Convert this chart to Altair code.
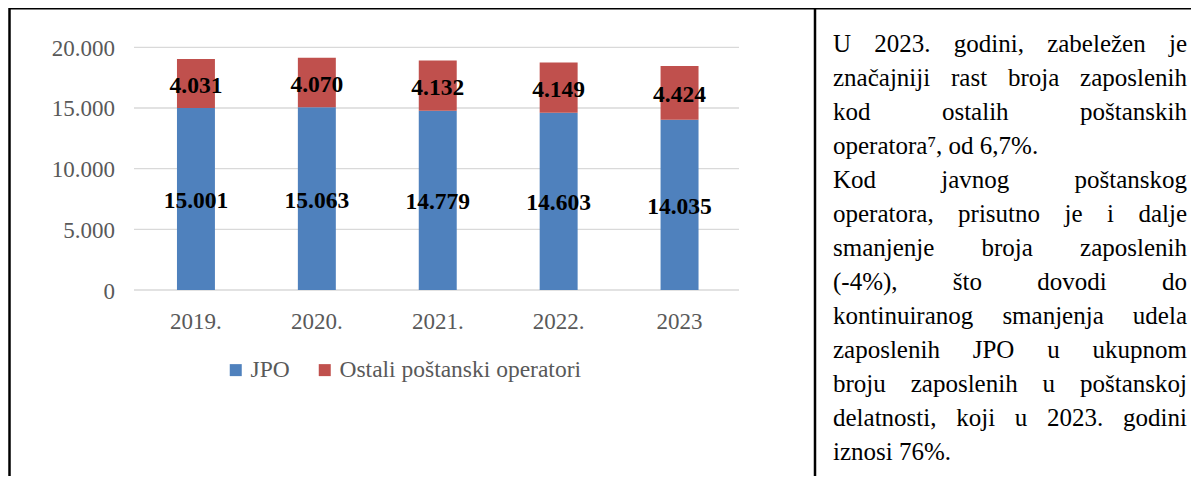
import altair as alt
import pandas as pd

# ---------------- data ----------------
years = ["2019.", "2020.", "2021.", "2022.", "2023"]
jpo = [15001, 15063, 14779, 14603, 14035]
ostali = [4031, 4070, 4132, 4149, 4424]
series_names = ["JPO", "Ostali poštanski operatori"]
series_colors = ["#4F81BD", "#C0504D"]
y_ticks = [0, 5000, 10000, 15000, 20000]

text_lines = [
    "U 2023. godini, zabeležen je",
    "značajniji rast broja zaposlenih",
    "kod ostalih poštanskih",
    "operatora⁷, od 6,7%.",
    "Kod javnog poštanskog",
    "operatora, prisutno je i dalje",
    "smanjenje broja zaposlenih",
    "(-4%), što dovodi do",
    "kontinuiranog smanjenja udela",
    "zaposlenih JPO u ukupnom",
    "broju zaposlenih u poštanskoj",
    "delatnosti, koji u 2023. godini",
    "iznosi 76%.",
]
line_justified = [True, True, True, False, True, True, True, True, True, True, True, True, False]

# ---------------- layout ----------------
W, H = 1183, 468
FONT = "Liberation Serif, Times New Roman, serif"
TEXT_LEFT, TEXT_RIGHT = 825, 1179
TEXT_BASE, LINE_H, TEXT_SIZE = 44, 34, 25
AXIS_SIZE = 23

# Times-Roman advance widths (per 1000 em) for justification
_w = {" ": 250, "%": 833, "(": 333, ")": 333, ",": 250, "-": 333, ".": 250, "⁷": 300,
      "J": 389, "K": 722, "O": 722, "P": 556, "U": 722}
for c in "0123456789":
    _w[c] = 500
_w.update({"a": 444, "b": 500, "c": 444, "č": 444, "d": 500, "e": 444, "f": 333, "g": 500,
           "h": 500, "i": 278, "j": 278, "k": 500, "l": 278, "m": 778, "n": 500, "o": 500,
           "p": 500, "r": 333, "s": 389, "š": 389, "t": 278, "u": 500, "v": 500, "z": 444, "ž": 444})


def text_width(s, size):
    return sum(_w.get(c, 500) for c in s) * size / 1000.0


def fmt(v):
    return f"{v:,}".replace(",", ".")


rows = []
for i, yr in enumerate(years):
    rows.append({"year": yr, "series": series_names[0], "value": jpo[i], "label": fmt(jpo[i]), "ord": 0})
    rows.append({"year": yr, "series": series_names[1], "value": ostali[i], "label": fmt(ostali[i]), "ord": 1})
df = pd.DataFrame(rows)

ticks_df = pd.DataFrame({"tick": y_ticks, "label": [fmt(t) for t in y_ticks]})
years_df = pd.DataFrame({"year": years})

# justified paragraph words
word_rows_left, word_rows_right, plain_rows = [], [], []
for i, (line, just) in enumerate(zip(text_lines, line_justified)):
    py = TEXT_BASE + i * LINE_H
    if not just:
        plain_rows.append({"t": line, "px": TEXT_LEFT, "py": py})
        continue
    words = line.split(" ")
    widths = [text_width(w_, TEXT_SIZE) for w_ in words]
    gap = (TEXT_RIGHT - TEXT_LEFT - sum(widths)) / (len(words) - 1)
    x = TEXT_LEFT
    for j, (w_, wd) in enumerate(zip(words, widths)):
        if j == len(words) - 1:
            word_rows_right.append({"t": w_, "px": TEXT_RIGHT, "py": py})
        else:
            word_rows_left.append({"t": w_, "px": x, "py": py})
        x += wd + gap

xscale = alt.Scale(domain=years, range=[127.5, 732], paddingInner=0.686, paddingOuter=0.343)
yscale = alt.Scale(domain=[0, 20000], range=[282, 39.3], nice=False, zero=False)

X = alt.X("year:N", scale=xscale, axis=None, sort=years)

grid = alt.Chart(ticks_df).mark_rule(color="#D9D9D9", strokeWidth=1.3).encode(
    y=alt.Y("tick:Q", scale=yscale, axis=None),
    x=alt.value(126), x2=alt.value(731),
)

bars = alt.Chart(df).mark_bar().encode(
    x=X,
    y=alt.Y("value:Q", scale=yscale, axis=None, stack="zero"),
    color=alt.Color(
        "series:N",
        scale=alt.Scale(domain=series_names, range=series_colors),
        legend=alt.Legend(
            orient="none", legendX=216, legendY=350, direction="horizontal", title=None,
            symbolType="square", symbolSize=144, symbolStrokeWidth=0, labelFont=FONT,
            labelFontSize=23.5, labelColor="#595959", labelOffset=3, columnPadding=23,
            labelLimit=500, padding=0,
        ),
    ),
    order=alt.Order("ord:Q"),
)

labels = alt.Chart(df).transform_stack(
    stack="value", groupby=["year"], as_=["v0", "v1"], sort=[alt.SortField("ord")]
).transform_calculate(mid="(datum.v0 + datum.v1) / 2").mark_text(
    font=FONT, fontSize=23.5, fontWeight="bold", color="black", baseline="middle", dy=2
).encode(
    x=X,
    y=alt.Y("mid:Q", scale=yscale, axis=None),
    text="label:N",
)

ylabels = alt.Chart(ticks_df).mark_text(
    align="right", baseline="middle", dy=1.5, font=FONT, fontSize=AXIS_SIZE, color="#595959"
).encode(
    y=alt.Y("tick:Q", scale=yscale, axis=None),
    x=alt.value(107),
    text="label:N",
)

xlabels = alt.Chart(years_df).mark_text(
    baseline="middle", font=FONT, fontSize=AXIS_SIZE, color="#595959"
).encode(x=X, y=alt.value(314), text="year:N")

one = pd.DataFrame({"k": [0]})
top_line = alt.Chart(one).mark_rule(color="black", strokeWidth=2).encode(
    x=alt.value(1), x2=alt.value(W), y=alt.value(0.5))
left_line = alt.Chart(one).mark_rule(color="black", strokeWidth=2.5).encode(
    x=alt.value(1.5), y=alt.value(0), y2=alt.value(H))
divider = alt.Chart(one).mark_rule(color="black", strokeWidth=2.5).encode(
    x=alt.value(807), y=alt.value(0), y2=alt.value(H))

PX = alt.X("px:Q", scale=None, axis=None)
PY = alt.Y("py:Q", scale=None, axis=None)
words_left = alt.Chart(pd.DataFrame(word_rows_left)).mark_text(
    align="left", baseline="alphabetic", font=FONT, fontSize=TEXT_SIZE, color="black"
).encode(x=PX, y=PY, text="t:N")
words_right = alt.Chart(pd.DataFrame(word_rows_right)).mark_text(
    align="right", baseline="alphabetic", font=FONT, fontSize=TEXT_SIZE, color="black"
).encode(x=PX, y=PY, text="t:N")
plain = alt.Chart(pd.DataFrame(plain_rows)).mark_text(
    align="left", baseline="alphabetic", font=FONT, fontSize=TEXT_SIZE, color="black"
).encode(x=PX, y=PY, text="t:N")

chart = alt.layer(
    grid, bars, labels, ylabels, xlabels, top_line, left_line, divider,
    words_left, words_right, plain,
).resolve_scale(x="independent", y="independent").properties(
    width=W, height=H, padding=0, autosize=alt.AutoSizeParams(type="none"),
    background="white",
).configure_view(stroke=None)

chart.save("out.html", embed_options={"renderer": "svg", "actions": False})
